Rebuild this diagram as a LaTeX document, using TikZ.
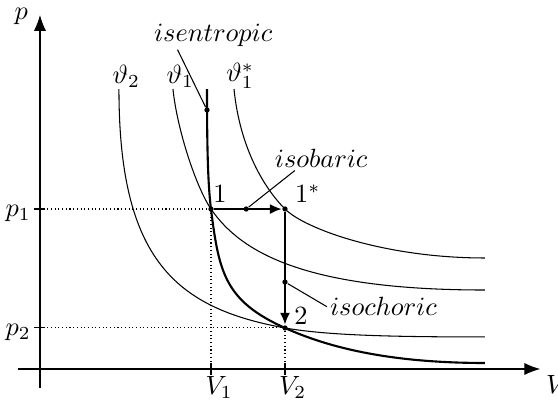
\documentclass[tikz,border=0pt]{standalone}
\usetikzlibrary{arrows.meta}

\begin{document}
\begin{tikzpicture}[
    >=Latex,
    axis/.style={->, >={Latex[length=6pt,width=4.6pt]}},
    isotherm/.style={thin},
    isentrope/.style={thick},
    change/.style={->, thick, >={Latex[length=4.5pt,width=3.8pt]}},
    guide/.style={densely dotted, thin},
    tick/.style={thin},
    dot/.style={circle, fill, inner sep=0pt, minimum size=2pt},
    lbl/.style={inner sep=1pt},
    leader/.style={thin}
]
\useasboundingbox (-0.533,-0.467) rectangle (6.907,4.92);

% STATE POINTS
\coordinate (s1) at (2.28,2.133);
\coordinate (s1s) at (3.267,2.133);
\coordinate (s2) at (3.267,0.547);

% AXES
\draw[axis] (-0.29,0) -- (6.67,0);
\draw[axis] (0,-0.25) -- (0,4.72);
\node[lbl] (plabel) at (-0.25,4.70) {$p$};
\node[lbl] (vlabel) at (6.89,-0.21) {$V$};

% ISOTHERMS
\draw[isotherm] (1.053,3.733) .. controls (1.053,1.467) and (1.80,0.813) .. (s2)
    .. controls (3.80,0.453) and (4.60,0.427) .. (5.933,0.427);
\draw[isotherm] (1.773,3.733) .. controls (1.827,3.20) and (2.08,2.427) .. (s1)
    .. controls (2.68,1.553) and (3.533,1.053) .. (5.933,1.053);
\draw[isotherm] (2.587,3.733) .. controls (2.667,2.933) and (3.00,2.40) .. (s1s)
    .. controls (3.533,1.867) and (4.60,1.48) .. (5.933,1.48);

\node[lbl] (theta2) at (1.15,3.90) {$\vartheta_2$};
\node[lbl] (theta1) at (1.87,3.90) {$\vartheta_1$};
\node[lbl] (theta1s) at (2.67,3.91) {$\vartheta_1^*$};

% ISENTROPE
\draw[isentrope] (2.227,3.733) .. controls (2.227,2.933) and (2.24,2.453) .. (s1)
    .. controls (2.387,1.28) and (2.467,0.907) .. (s2)
    .. controls (3.80,0.307) and (4.60,0.08) .. (5.933,0.08);

\node[dot] (one) at (s1) {};
\node[dot] (onestar) at (s1s) {};
\node[dot] (two) at (s2) {};

\node[lbl] at (2.40,2.33) {$1$};
\node[lbl] at (3.57,2.34) {$1^*$};
\node[lbl] at (3.48,0.70) {$2$};

% TICKS AND GUIDES
\coordinate (ponetick) at (0,2.133);
\coordinate (ptwotick) at (0,0.547);
\coordinate (vonetick) at (2.28,0);
\coordinate (vtwotick) at (3.267,0);

\draw[tick] (-0.08,2.133) -- (0.05,2.133);
\draw[tick] (-0.08,0.547) -- (0.05,0.547);
\draw[tick] (2.28,-0.08) -- (2.28,0.08);
\draw[tick] (3.267,-0.08) -- (3.267,0.08);

\draw[guide] (ponetick) -- (one);
\draw[guide] (ptwotick) -- (two);
\draw[guide] (vonetick) -- (one);
\draw[guide] (vtwotick) -- (two);

\node[lbl] (pone) at (-0.29,2.07) {$p_1$};
\node[lbl] (ptwo) at (-0.29,0.49) {$p_2$};
\node[lbl] (vone) at (2.39,-0.25) {$V_1$};
\node[lbl] (vtwo) at (3.37,-0.25) {$V_2$};

% CHANGES OF STATE
\draw[change] (one) -- (onestar);
\draw[change] (onestar) -- (two);

% LABELS WITH LEADERS
\node[dot] (isendot) at (2.227,3.453) {};
\node[dot] (isobdot) at (2.75,2.133) {};
\node[dot] (isochdot) at (3.267,1.16) {};

\node[lbl] (isentropic) at (2.31,4.45) {$isentropic$};
\node[lbl] (isobaric) at (3.75,2.81) {$isobaric$};
\node[lbl] (isochoric) at (4.58,0.83) {$isochoric$};

\draw[leader] (isendot) -- (isentropic.202);
\draw[leader] (isobdot) -- (isobaric.205);
\draw[leader] (isochdot) -- (isochoric.west);

\end{tikzpicture}
\end{document}
